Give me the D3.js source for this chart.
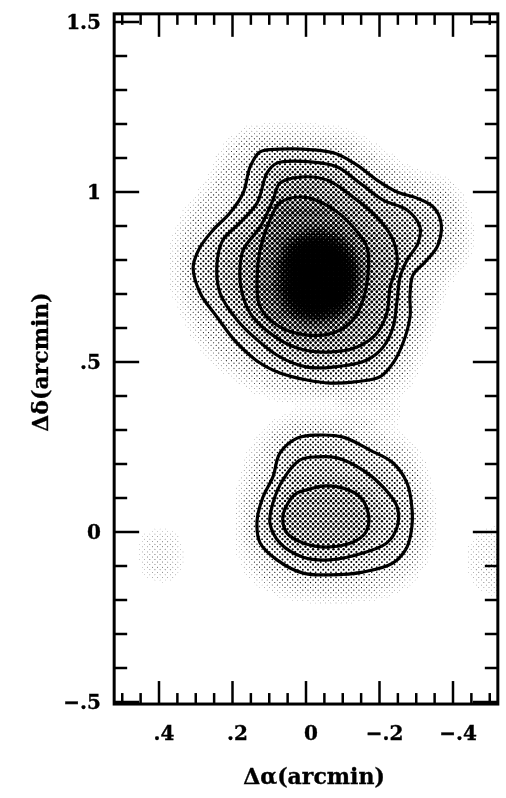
<!DOCTYPE html>
<html>
<head>
<meta charset="utf-8">
<script src="https://cdn.jsdelivr.net/npm/d3@7"></script>
<style>
  body { margin: 0; background: #fff; }
  #chart { position: relative; width: 506px; height: 798px; }
  #chart canvas, #chart svg { position: absolute; left: 0; top: 0; }
  text { font-family: "DejaVu Serif", serif; font-weight: bold; fill: #000; stroke: #000; stroke-width: 0.35px; }
</style>
</head>
<body>
<div id="chart"></div>
<script>
// contour lines, [d_alpha, d_delta] in arcmin
var northOuter = [[0.307,0.779],[0.288,0.838],[0.253,0.888],[0.207,0.938],[0.171,0.997],[0.152,1.074],[0.125,1.118],[0.071,1.126],[-0.019,1.124],[-0.084,1.112],[-0.139,1.079],[-0.193,1.035],[-0.248,1.000],[-0.302,0.982],[-0.346,0.956],[-0.367,0.912],[-0.359,0.844],[-0.324,0.794],[-0.291,0.756],[-0.283,0.697],[-0.283,0.632],[-0.264,0.556],[-0.237,0.497],[-0.201,0.456],[-0.128,0.441],[-0.065,0.438],[-0.003,0.447],[0.071,0.468],[0.125,0.497],[0.188,0.556],[0.242,0.632],[0.288,0.703]];
var northSecond = [[0.242,0.791],[0.226,0.859],[0.180,0.909],[0.133,0.968],[0.106,1.056],[0.079,1.085],[-0.019,1.088],[-0.084,1.074],[-0.147,1.026],[-0.210,0.976],[-0.275,0.947],[-0.310,0.897],[-0.305,0.850],[-0.275,0.800],[-0.256,0.750],[-0.248,0.682],[-0.237,0.603],[-0.210,0.544],[-0.166,0.506],[-0.073,0.485],[-0.003,0.485],[0.071,0.515],[0.133,0.565],[0.188,0.624],[0.234,0.703]];
var northThird = [[0.180,0.762],[0.171,0.829],[0.125,0.897],[0.090,0.976],[0.071,1.026],[0.016,1.044],[-0.057,1.035],[-0.128,0.985],[-0.193,0.926],[-0.237,0.859],[-0.248,0.791],[-0.229,0.721],[-0.220,0.644],[-0.193,0.585],[-0.139,0.544],[-0.057,0.529],[0.024,0.541],[0.098,0.585],[0.152,0.644],[0.174,0.703]];
var northFourth = [[0.071,0.968],[0.008,0.985],[-0.065,0.956],[-0.128,0.897],[-0.166,0.838],[-0.169,0.762],[-0.155,0.682],[-0.128,0.624],[-0.073,0.585],[-0.003,0.579],[0.071,0.603],[0.125,0.662],[0.133,0.741],[0.125,0.829],[0.098,0.918]];
var southOuter = [[0.024,0.276],[-0.030,0.285],[-0.101,0.279],[-0.174,0.241],[-0.237,0.203],[-0.275,0.144],[-0.288,0.074],[-0.288,0.015],[-0.275,-0.044],[-0.237,-0.091],[-0.155,-0.118],[-0.065,-0.126],[0.008,-0.121],[0.079,-0.082],[0.125,-0.032],[0.133,0.035],[0.117,0.103],[0.090,0.162],[0.071,0.232]];
var southSecond = [[0.016,0.212],[-0.030,0.221],[-0.084,0.218],[-0.155,0.182],[-0.210,0.132],[-0.248,0.074],[-0.248,0.015],[-0.220,-0.032],[-0.155,-0.062],[-0.065,-0.082],[0.008,-0.074],[0.071,-0.032],[0.098,0.026],[0.090,0.085],[0.063,0.153]];
var southThird = [[-0.003,0.124],[-0.046,0.135],[-0.101,0.129],[-0.147,0.103],[-0.169,0.056],[-0.166,0.006],[-0.139,-0.024],[-0.065,-0.044],[0.008,-0.032],[0.052,-0.003],[0.063,0.044],[0.049,0.085],[0.024,0.115]];

// grey tone of the plate (0 = paper, 1 = solid black)
var northCore = [[0.044,0.844],[-0.044,0.874],[-0.114,0.829],[-0.136,0.741],[-0.106,0.659],[-0.024,0.629],[0.044,0.659],[0.065,0.747]];
var northHalo = [[0.356,0.785],[0.329,0.918],[0.261,1.021],[0.193,1.153],[0.098,1.188],[-0.038,1.182],[-0.133,1.159],[-0.215,1.100],[-0.297,1.050],[-0.386,1.021],[-0.433,0.932],[-0.433,0.815],[-0.378,0.741],[-0.343,0.638],[-0.310,0.521],[-0.256,0.424],[-0.093,0.388],[0.071,0.403],[0.180,0.453],[0.275,0.550],[0.335,0.668]];
var southHalo = [[0.044,0.335],[-0.093,0.335],[-0.201,0.300],[-0.288,0.241],[-0.329,0.124],[-0.337,0.006],[-0.310,-0.097],[-0.229,-0.171],[-0.065,-0.191],[0.057,-0.176],[0.147,-0.118],[0.180,0.006],[0.166,0.153],[0.120,0.271]];
var westPatch = [[0.438,-0.018],[0.365,0.000],[0.343,-0.068],[0.365,-0.135],[0.430,-0.126]];
var eastPatch = [[-0.452,-0.038],[-0.522,0.006],[-0.522,-0.171],[-0.468,-0.156]];
var bridgePatch = [[-0.093,0.403],[-0.201,0.418],[-0.256,0.344],[-0.174,0.300],[-0.106,0.315]];

var northShades = [0.26, 0.35, 0.48, 0.7];
var southShades = [0.25, 0.33, 0.45];
var coreShade = 1.0, haloShade = 0.09, patchShade = 0.055;

// axes
var alphaTicks = d3.range(-10, 11).map(function(k) { return k * 0.05; });
var alphaMajor = [0.4, 0.2, 0, -0.2, -0.4];
var deltaTicks = d3.range(-5, 16).map(function(k) { return k * 0.1; });
var deltaMajor = [1.5, 1, 0.5, 0, -0.5];
var frameAlpha = [0.522, -0.522];
var frameDelta = [-0.506, 1.524];

var W = 506, H = 798;
var x = d3.scaleLinear().domain([0.5, -0.5]).range([122.25, 489.75]);
var y = d3.scaleLinear().domain([-0.5, 1.5]).range([702, 22]);

var fx0 = x(frameAlpha[0]), fx1 = x(frameAlpha[1]);
var fy0 = y(frameDelta[1]), fy1 = y(frameDelta[0]);

function fmt(v) {
  if (Math.abs(v) < 1e-9) return "0";
  var s = (+Math.abs(v).toFixed(2)).toString().replace(/^0/, "");
  return (v < 0 ? "\u2212" : "") + s;
}

var chart = d3.select("#chart");
var canvas = chart.append("canvas").attr("width", W).attr("height", H).node();
var svg = chart.append("svg").attr("width", W).attr("height", H);

var line = d3.line()
  .x(function(d) { return x(d[0]); })
  .y(function(d) { return y(d[1]); })
  .curve(d3.curveCatmullRomClosed.alpha(0.5));

// shading regions, sampled along the same smooth curves
var regions = [];
[westPatch, eastPatch, bridgePatch].forEach(function(p) { regions.push({pts: p, shade: patchShade}); });
regions.push({pts: northHalo, shade: haloShade});
regions.push({pts: southHalo, shade: haloShade});
[northOuter, northSecond, northThird, northFourth].forEach(function(p, i) { regions.push({pts: p, shade: northShades[i]}); });
[southOuter, southSecond, southThird].forEach(function(p, i) { regions.push({pts: p, shade: southShades[i]}); });
regions.push({pts: northCore, shade: coreShade});

var tmp = svg.append("g").style("visibility", "hidden");
regions.forEach(function(r) {
  var path = tmp.append("path").attr("d", line(r.pts)).node();
  var len = path.getTotalLength();
  r.poly = d3.range(150).map(function(k) {
    var p = path.getPointAtLength(len * k / 150);
    return [p.x, p.y];
  });
});
tmp.remove();

var cell = 2;
var gw = Math.ceil((fx1 - fx0) / cell), gh = Math.ceil((fy1 - fy0) / cell);
var grid = new Float32Array(gw * gh);
for (var j = 0; j < gh; j++) {
  for (var i = 0; i < gw; i++) {
    var pt = [fx0 + (i + 0.5) * cell, fy0 + (j + 0.5) * cell], v = 0;
    regions.forEach(function(r) {
      if (r.shade > v && d3.polygonContains(r.poly, pt)) v = r.shade;
    });
    grid[j * gw + i] = v;
  }
}

function boxBlur(src, w, h, r) {
  var a = new Float32Array(w * h), b = new Float32Array(w * h);
  for (var j = 0; j < h; j++) for (var i = 0; i < w; i++) {
    var s = 0, n = 0;
    for (var k = -r; k <= r; k++) { var ii = i + k; if (ii >= 0 && ii < w) { s += src[j * w + ii]; n++; } }
    a[j * w + i] = s / n;
  }
  for (var j2 = 0; j2 < h; j2++) for (var i2 = 0; i2 < w; i2++) {
    var s2 = 0, n2 = 0;
    for (var k2 = -r; k2 <= r; k2++) { var jj = j2 + k2; if (jj >= 0 && jj < h) { s2 += a[jj * w + i2]; n2++; } }
    b[j2 * w + i2] = s2 / n2;
  }
  return b;
}
grid = boxBlur(boxBlur(boxBlur(grid, gw, gh, 3), gw, gh, 3), gw, gh, 3);

// halftone screen at 45 degrees
var ctx = canvas.getContext("2d");
ctx.fillStyle = "#fff";
ctx.fillRect(0, 0, W, H);
ctx.save();
ctx.beginPath();
ctx.rect(fx0, fy0, fx1 - fx0, fy1 - fy0);
ctx.clip();
ctx.fillStyle = "#000";
var a = 2.55;
var rKnee = Math.sqrt(0.7 * 2 * a * a / Math.PI);
for (var jy = 0; fy0 + jy * a < fy1; jy++) {
  for (var ix = 0; fx0 + ix * a < fx1; ix++) {
    if ((ix + jy) % 2) continue;
    var px = fx0 + ix * a, py = fy0 + jy * a;
    var gi = Math.min(gw - 1, Math.floor((px - fx0) / cell)), gj = Math.min(gh - 1, Math.floor((py - fy0) / cell));
    var d = grid[gj * gw + gi];
    if (d < 0.015) continue;
    var rad = d < 0.7 ? Math.sqrt(d * 2 * a * a / Math.PI) : rKnee + (d - 0.7) / 0.3 * (a + 0.1 - rKnee);
    ctx.beginPath();
    ctx.arc(px, py, rad, 0, 2 * Math.PI);
    ctx.fill();
  }
}
ctx.restore();

// contour lines
svg.append("g")
  .selectAll("path")
  .data([northOuter, northSecond, northThird, northFourth, southOuter, southSecond, southThird])
  .enter().append("path")
  .attr("d", line)
  .attr("fill", "none")
  .attr("stroke", "#000")
  .attr("stroke-width", 3.2)
  .attr("stroke-linejoin", "round");

// frame
svg.append("rect")
  .attr("x", fx0).attr("y", fy0)
  .attr("width", fx1 - fx0).attr("height", fy1 - fy0)
  .attr("fill", "none").attr("stroke", "#000").attr("stroke-width", 3);

function isMajor(v, list) { return list.some(function(m) { return Math.abs(m - v) < 1e-6; }); }

var ticks = svg.append("g").attr("stroke", "#000").attr("stroke-width", 2.5);
alphaTicks.forEach(function(v) {
  var len = isMajor(v, alphaMajor) ? 23 : 11;
  ticks.append("line").attr("x1", x(v)).attr("x2", x(v)).attr("y1", fy0).attr("y2", fy0 + len);
  ticks.append("line").attr("x1", x(v)).attr("x2", x(v)).attr("y1", fy1).attr("y2", fy1 - len);
});
deltaTicks.forEach(function(v) {
  var len = isMajor(v, deltaMajor) ? 25 : 13;
  ticks.append("line").attr("x1", fx0).attr("x2", fx0 + len).attr("y1", y(v)).attr("y2", y(v));
  ticks.append("line").attr("x1", fx1).attr("x2", fx1 - len).attr("y1", y(v)).attr("y2", y(v));
});

svg.append("g").selectAll("text").data(alphaMajor).enter().append("text")
  .attr("x", function(d) { return x(d) + 5; })
  .attr("y", 740)
  .attr("text-anchor", "middle")
  .attr("font-size", 20)
  .text(fmt);

svg.append("g").selectAll("text").data(deltaMajor).enter().append("text")
  .attr("x", 101)
  .attr("y", function(d) { return y(d) + 7; })
  .attr("text-anchor", "end")
  .attr("font-size", 20)
  .text(fmt);

svg.append("text")
  .attr("x", 314).attr("y", 784)
  .attr("text-anchor", "middle")
  .attr("font-size", 22)
  .text("\u0394\u03b1(arcmin)");

svg.append("text")
  .attr("transform", "translate(48,362) rotate(-90)")
  .attr("text-anchor", "middle")
  .attr("font-size", 22)
  .text("\u0394\u03b4(arcmin)");
</script>
</body>
</html>
